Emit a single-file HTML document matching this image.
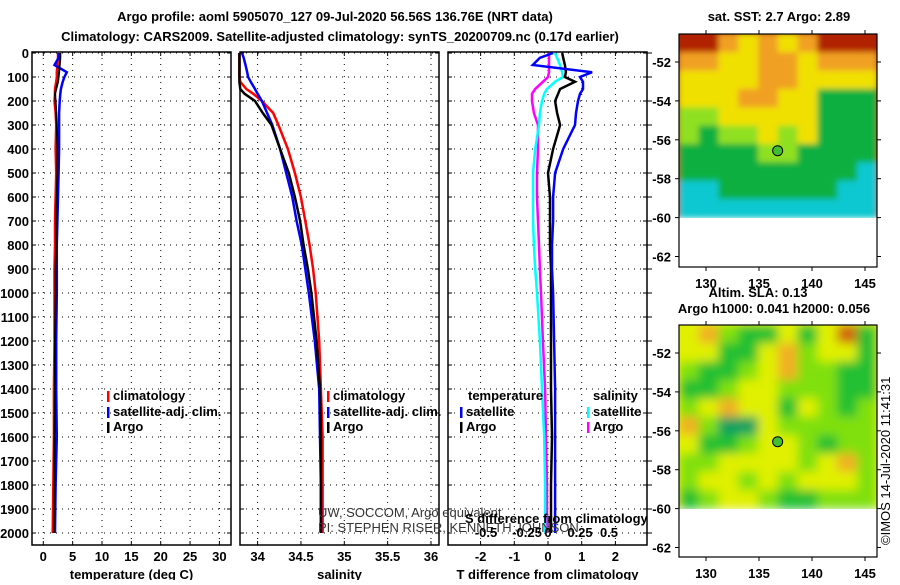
<!DOCTYPE html>
<html><head><meta charset="utf-8"><style>
body{margin:0;background:#fff;}
svg text{font-family:"Liberation Sans",Arial,sans-serif;font-weight:bold;font-size:13px;fill:#000;}
</style></head><body>
<svg id="c" width="900" height="580" viewBox="0 0 900 580" xmlns="http://www.w3.org/2000/svg">
<defs>
<filter id="blur2" x="0" y="0" width="1" height="1"><feGaussianBlur stdDeviation="5"/></filter>
<filter id="blur1" x="0" y="0" width="1" height="1"><feGaussianBlur stdDeviation="3"/></filter>
<clipPath id="clipSla"><rect x="679" y="325" width="198" height="184"/></clipPath>
<clipPath id="clipSst"><rect x="679" y="34" width="198" height="184"/></clipPath>
</defs>
<rect width="900" height="580" fill="#fff"/>
<text x="335" y="21" text-anchor="middle" font-size="14">Argo profile: aoml 5905070_127 09-Jul-2020 56.56S 136.76E (NRT data)</text>
<text x="340" y="41" text-anchor="middle" font-size="14">Climatology: CARS2009. Satellite-adjusted climatology: synTS_20200709.nc (0.17d earlier)</text>
<text x="779" y="21" text-anchor="middle" font-size="12">sat. SST: 2.7 Argo: 2.89</text>
<text x="758" y="297" text-anchor="middle" font-size="12">Altim. SLA: 0.13</text>
<text x="774" y="313" text-anchor="middle" font-size="12">Argo h1000: 0.041 h2000: 0.056</text>
<text transform="translate(890,545) rotate(-90)" font-size="12" style="font-weight:normal">©IMOS 14-Jul-2020 11:41:31</text>
<g id="g"></g>
</svg>
<script>
const depths=[0,20,50,80,100,120,150,170,200,250,300,400,500,600,700,800,900,1000,1200,1400,1600,1800,2000];
const depthTicks=[0,100,200,300,400,500,600,700,800,900,1000,1100,1200,1300,1400,1500,1600,1700,1800,1900,2000];
const tempTicks=[0,5,10,15,20,25,30];
const salTicks=[34,34.5,35,35.5,36];
const salTickLabels=["34","34.5","35","35.5","36"];
const tdiffTicks=[-2,-1,0,1,2];
const sdiffTickLabels=["-0.5","-0.25","0","0.25","0.5"];
const sdiffTicks=[-0.5,-0.25,0,0.25,0.5];
const tempClim=[2.5,2.5,2.4,2.3,2.3,2.2,2.0,2.0,1.9,2.1,2.2,2.1,2.2,2.1,2.0,2.0,1.9,1.9,1.9,1.8,1.8,1.7,1.6];
const tempSat=[2.6,2.6,1.9,4.0,3.6,3.3,3.0,2.9,2.8,2.7,2.7,2.7,2.6,2.5,2.4,2.3,2.3,2.3,2.2,2.2,2.3,2.1,2.0];
const tempArgo=[2.9,2.9,2.8,2.7,2.6,2.5,2.2,2.0,2.1,2.2,2.3,2.4,2.4,2.3,2.2,2.2,2.1,2.1,2.0,2.0,1.9,1.9,1.8];
const salClim=[33.79,33.79,33.79,33.79,33.79,33.8,33.87,33.95,34.05,34.18,34.24,34.35,34.43,34.5,34.55,34.6,34.64,34.67,34.71,34.73,34.75,34.75,34.75];
const salSat=[33.82,33.84,33.86,33.88,33.89,33.92,33.97,34.0,34.05,34.11,34.17,34.26,34.33,34.4,34.45,34.51,34.55,34.59,34.66,34.71,34.72,34.73,34.73];
const salArgo=[33.79,33.79,33.79,33.79,33.79,33.79,33.8,33.85,33.97,34.06,34.16,34.26,34.36,34.43,34.49,34.53,34.58,34.62,34.68,34.72,34.73,34.73,34.73];
const tdiffSat=[0.15,-0.24,-0.45,1.31,0.95,1.04,1.04,0.95,0.89,0.83,0.8,0.45,0.21,0.15,0.15,0.12,0.12,0.15,0.18,0.21,0.21,0.21,0.21];
const tdiffArgo=[0.42,0.45,0.5,0.53,0.5,0.8,0.36,0.3,0.21,0.27,0.36,0.15,0,0.06,0.06,0.06,0.09,0.09,0.09,0.09,0.12,0.09,0.09];
const sdiffSat=[0.055,0.07,0.094,0.11,0.117,0.055,-0.008,-0.03,-0.047,-0.063,-0.07,-0.1,-0.117,-0.117,-0.117,-0.11,-0.1,-0.086,-0.063,-0.047,-0.03,-0.023,-0.023];
const sdiffArgo=[0.008,0.008,0.008,0.008,0,-0.04,-0.1,-0.125,-0.125,-0.11,-0.078,-0.078,-0.086,-0.086,-0.078,-0.07,-0.063,-0.055,-0.04,-0.023,-0.016,-0.008,-0.008];
const sstGrid=[
[6,6,5,4,5,4,5,6,6,6],[5,5,4,4,5,5,4,5,5,5],[4,4,4,4,5,5,4,4,4,4],[4,4,4,5,5,4,4,2,2,2],
[3,3,4,4,4,4,4,2,2,2],[3,2,3,3,4,3,4,2,2,2],[2,2,2,2,3,3,2,2,2,2],[2,2,2,2,2,2,2,2,2,1],
[1,1,2,2,2,2,2,2,1,1],[1,1,1,1,1,1,1,1,1,1]];
const slaGrid=[
[3,4,2,1,1,3,1,3,5,1],[3,3,1,1,3,4,2,3,3,1],[2,1,1,2,3,4,2,2,1,1],[1,1,2,3,3,2,2,2,1,1],
[2,3,4,3,3,1,3,2,1,2],[4,2,0,0,3,2,2,2,2,2],[3,1,1,2,3,3,2,1,2,2],[2,2,3,3,3,3,2,3,4,2],
[2,3,3,2,3,2,3,3,3,2],[1,2,3,3,2,1,1,2,2,2]];
const lonTicks=[130,135,140,145];
const latTicks=[-52,-54,-56,-58,-60,-62];
const argoLon=136.76, argoLat=-56.56;

const NS="http://www.w3.org/2000/svg";
const G=document.getElementById('g');
function el(t,a,p){const e=document.createElementNS(NS,t);for(const k in a)e.setAttribute(k,a[k]);(p||G).appendChild(e);return e;}
const yD=d=>53+d*0.24;
const TOP=52,BOT=545;
const xT=v=>43.3+v*5.87;
const xS=v=>344.3+(v-35)*86.7;
const xTD=v=>548+v*33.7;
const xSD=v=>548+v*128;
const xSDtick=[486,527,548,580,609];

function panel(x0,x1,name,ticks,labels,xf,title,leftLabels,rightTicks){
  const g=el('g',{});
  
  
  depthTicks.forEach(d=>{el('line',{x1:x0,x2:x1,y1:yD(d),y2:yD(d),stroke:'#000','stroke-width':1,'stroke-dasharray':'1 5'},g);
    el('line',{x1:x0,x2:x0+4,y1:yD(d),y2:yD(d),stroke:'#000'},g);el('line',{x1:x1-4,x2:x1,y1:yD(d),y2:yD(d),stroke:'#000'},g);
    if(rightTicks)el('line',{x1:x1,x2:x1+5,y1:yD(d),y2:yD(d),stroke:'#000'},g);
    if(leftLabels){const t=el('text',{x:29,y:yD(d)+5,'text-anchor':'end','font-size':12},g);t.textContent=d;}});
  ticks.forEach((v,i)=>{const x=xf(v);el('line',{x1:x,x2:x,y1:TOP,y2:BOT,stroke:'#000','stroke-dasharray':'1 5'},g);
    el('line',{x1:x,x2:x,y1:BOT,y2:BOT-4,stroke:'#000'},g);el('line',{x1:x,x2:x,y1:TOP,y2:TOP+4,stroke:'#000'},g);
    const t=el('text',{x:x,y:561,'text-anchor':'middle','font-size':12},g);t.textContent=labels[i];});
  el('rect',{x:x0,y:TOP,width:x1-x0,height:BOT-TOP,fill:'none',stroke:'#000','stroke-width':1.5},g);
  const t=el('text',{x:(x0+x1)/2,y:579,'text-anchor':'middle','font-size':12},g);t.textContent=title;
  return g;
}
function series(vals,xf,color,name,w){
  const pts=vals.map((v,i)=>xf(v).toFixed(1)+','+yD(depths[i]).toFixed(1)).join(' ');
  const p=el('polyline',{points:pts,fill:'none',stroke:color,'stroke-width':w||2.5});
  
  
}
function legend(x,y,color,label){
  el('rect',{x:x,y:y-9,width:2.5,height:11,fill:color});
  const t=el('text',{x:x+6,y:y,'font-size':12});t.textContent=label;
  
  
}
panel(32,231,'temperature-panel',tempTicks,tempTicks.map(String),xT,'temperature (deg C)',true,false);
series(tempClim,xT,'#f00','temp-climatology-line');
series(tempSat,xT,'#00f','temp-satellite-line');
series(tempArgo,xT,'#000','temp-argo-line',2);
legend(107,400,'#f00','climatology');legend(107,416,'#00f','satellite-adj. clim.');legend(107,431,'#000','Argo');

panel(240,439,'salinity-panel',salTicks,salTickLabels,xS,'salinity',false,false);
series(salClim,xS,'#f00','sal-climatology-line');
series(salSat,xS,'#00f','sal-satellite-line');
series(salArgo,xS,'#000','sal-argo-line');
legend(327,400,'#f00','climatology');legend(327,416,'#00f','satellite-adj. clim.');legend(327,431,'#000','Argo');

panel(448,647,'difference-panel',tdiffTicks,tdiffTicks.map(String),xTD,'T difference from climatology',false,true);
series(sdiffArgo,xSD,'#f0f','sdiff-argo-line');
series(sdiffSat,xSD,'#0ff','sdiff-satellite-line');
series(tdiffArgo,xTD,'#000','tdiff-argo-line');
series(tdiffSat,xTD,'#00f','tdiff-satellite-line');
{const t=el('text',{x:468,y:400,'font-size':12});t.textContent='temperature';
 const t2=el('text',{x:593,y:400,'font-size':12});t2.textContent='salinity';}
legend(460,416,'#00f','satellite');legend(460,431,'#000','Argo');
legend(587,416,'#0ff','satellite');legend(587,431,'#f0f','Argo');
{const a=el('text',{x:318,y:517,'font-size':12,style:'font-weight:normal;fill:#333'});a.textContent='UW, SOCCOM, Argo equivalent';
 const b=el('text',{x:318,y:532,'font-size':12,style:'font-weight:normal;fill:#333'});b.textContent='PI: STEPHEN RISER, KENNETH JOHNSON';
 const c=el('text',{x:465,y:523,'font-size':12});c.textContent='S difference from climatology';
 sdiffTicks.forEach((v,i)=>{const t=el('text',{x:xSDtick[i],y:537,'text-anchor':'middle','font-size':12});t.textContent=sdiffTickLabels[i];});}

const sstCol=['#1040ff','#10c8d0','#10b040','#90e020','#f0e000','#f0a020','#b02000'];
const slaCol=['#10a060','#20c030','#80e010','#e0f000','#f0b020','#d06010'];
function map(x0,y0,y1,grid,cols,name,filt,clip){
  const g=el('g',{});
  
  
  const lat=v=>y0+28+(-52-v)*19.45;
  const lon=v=>706+(v-130)*53/5;
  const dataBot=lat(-60);
  const inner=el('g',{filter:'url(#'+filt+')'},el('g',{'clip-path':'url(#'+clip+')'},g));
  const rows=grid.length,cs=grid[0].length,cw=198/cs,ch=(dataBot-y0)/rows;
  el('rect',{x:x0-10,y:y0-10,width:218,height:dataBot-y0+10,fill:cols[grid[0][0]]},inner);
  grid.forEach((r,i)=>r.forEach((v,j)=>{const c=el('rect',{x:x0+j*cw-0.2,y:y0+i*ch-0.2,width:cw+0.5,height:ch+0.5,fill:cols[v]},inner);
    
    }));
  el('rect',{x:x0,y:y0,width:198,height:y1-y0,fill:'none',stroke:'#000','stroke-width':1.2},g);
  latTicks.forEach(v=>{const y=lat(v);el('line',{x1:x0-4,x2:x0,y1:y,y2:y,stroke:'#000'},g);el('line',{x1:x0+198,x2:x0+202,y1:y,y2:y,stroke:'#000'},g);
    const t=el('text',{x:x0-8,y:y+5,'text-anchor':'end','font-size':12},g);t.textContent=v;});
  lonTicks.forEach(v=>{const x=lon(v);el('line',{x1:x,x2:x,y1:y0-4,y2:y0,stroke:'#000'},g);el('line',{x1:x,x2:x,y1:y1,y2:y1+4,stroke:'#000'},g);
    const t=el('text',{x:x,y:y1+21,'text-anchor':'middle','font-size':13},g);t.textContent=v;});
  const m=el('circle',{cx:lon(argoLon),cy:lat(argoLat),r:5,fill:'#40c030',stroke:'#000'},g);
  
  
}
map(679,34,267,sstGrid,sstCol,'sst-map','blur1','clipSst');
map(679,325,557,slaGrid,slaCol,'sla-map','blur2','clipSla');
</script>
</body></html>
